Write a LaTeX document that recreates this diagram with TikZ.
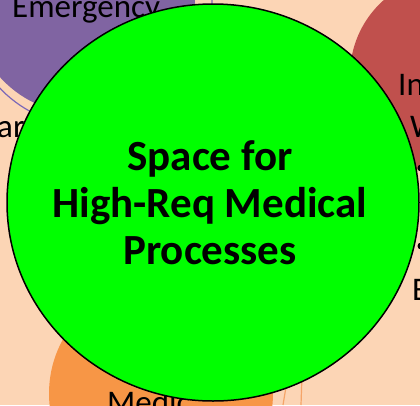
\documentclass[tikz,border=0pt]{standalone}
\usepackage{fontspec}
\setmainfont{Carlito}
\usetikzlibrary{shapes.geometric}

\definecolor{peach}{HTML}{FCD5B5}
\definecolor{zonepurple}{HTML}{8064A2}
\definecolor{zonered}{HTML}{C0504D}
\definecolor{zoneorange}{HTML}{F79646}
\definecolor{ringpurple}{HTML}{7B68B8}
\definecolor{ringorange}{HTML}{F5A468}
\definecolor{spacegreen}{HTML}{00FF00}

\begin{document}
\begin{tikzpicture}[
        x=1pt, y=-1pt,
        zone/.style={circle, inner sep=0pt, minimum size=#1},
        ring/.style={draw=#1, line width=1.2pt},
        zonetext/.style={inner sep=0pt, anchor=base west, font=\fontsize{33}{40}\selectfont},
        bullet/.style={circle, fill=black, inner sep=0pt, minimum size=7pt}
    ]
        \useasboundingbox (0,0) rectangle (420,405);
        \clip (0,0) rectangle (420,405);
        \fill[peach] (0,0) rectangle (420,405);

        % thin outlines behind the zones
        \draw[ring=ringpurple] (89,3.4) circle[radius=123];
        \draw[ring=ringorange] (288,375) -- (283,405);
        \draw[ring=ringorange] (302,375) -- (301,405);

        \node[zone=224pt, fill=zonepurple] (emergency) at (83,2) {};
        \node[zone=200pt, fill=zonered] (inzone) at (450,75) {};
        \node[zone=224pt, fill=zoneorange] (medzone) at (161,393.5) {};

        % labels, mostly cut off by the frame or the green circle
        \node[zonetext] (emergencytext) at (12,17) {Emergency};
        \node[zonetext] (intext) at (398,95) {In};
        \node[zonetext] (wtext) at (410,137) {W};
        \node[zonetext] (artext) at (-3,137) {ar};
        \node[zonetext] (etext) at (412,300) {E};
        \node[zonetext] (meditext) at (107,413) {Medic};
        \node[bullet] (dotupper) at (421,168) {};
        \node[bullet] (dotlower) at (421,246) {};

        \node[ellipse, draw=black, line width=1.5pt, fill=spacegreen,
              minimum width=412pt, minimum height=397pt, inner sep=0pt]
              (space) at (213,202.5) {};
        \node[align=center, inner sep=0pt, font=\bfseries\fontsize{43}{47}\selectfont]
              (spacetext) at ([xshift=-3pt]space.center) {Space for\\High-Req Medical\\Processes};
\end{tikzpicture}
\end{document}
